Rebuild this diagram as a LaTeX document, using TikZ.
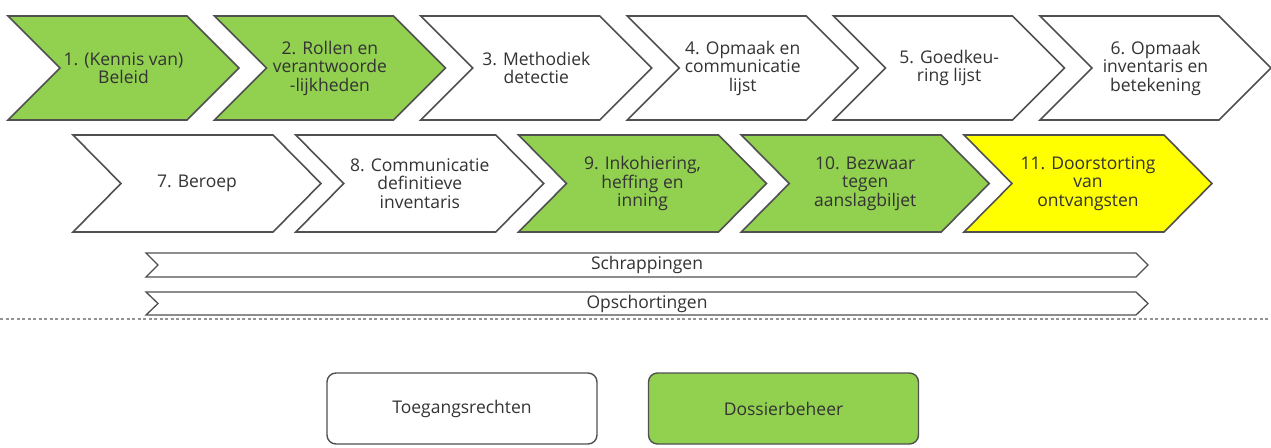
\documentclass[tikz,border=0pt]{standalone}
\usepackage{fontspec}
\setmainfont{Open Sans}
\definecolor{groen}{HTML}{92D050}
\definecolor{geel}{HTML}{FFFF00}
\definecolor{rand}{HTML}{505050}
\definecolor{tekstkl}{HTML}{333333}
% pijl: naam, links, boven, onder, breedte, punt, opmaak, tekst
\newcommand{\pijl}[8]{%
  \draw[pijlrand,#7] ({#2},{#3}) -- ({#2+#5-#6},{#3}) -- ({#2+#5},{(#3+#4)/2})
    -- ({#2+#5-#6},{#4}) -- ({#2},{#4}) -- ({#2+#6},{(#3+#4)/2}) -- cycle;
  \node[lbl] (#1) at ({#2+#5/2},{(#3+#4)/2}) {#8};}
\begin{document}
\begin{tikzpicture}[x=1pt,y=-1pt,
    pijlrand/.style={draw=rand, line width=1.6pt, line join=miter},
    lbl/.style={align=center, text=tekstkl, font=\fontsize{17.5}{18.5}\selectfont, inner sep=0pt},
    kader/.style={lbl, draw=rand, line width=1.4pt, rounded corners=9pt,
          minimum width=270pt, minimum height=71pt}]
  \useasboundingbox (0,0) rectangle (1271,447);
  % bovenste rij
  \foreach \n/\kleur/\tekst in {1/groen/{1. (Kennis van)\\Beleid},
      2/groen/{2. Rollen en\\verantwoorde\\-lijkheden}, 3/white/{3. Methodiek\\detectie},
      4/white/{4. Opmaak en\\communicatie\\lijst}, 5/white/{5. Goedkeu-\\ring lijst},
      6/white/{6. Opmaak\\inventaris en\\betekening}}
    \pijl{stap\n}{8+206.4*(\n-1)}{16}{120}{231}{52}{fill=\kleur}{\tekst};
  % onderste rij
  \foreach \n/\kleur/\tekst in {7/white/{7. Beroep},
      8/white/{8. Communicatie\\definitieve\\inventaris}, 9/groen/{9. Inkohiering,\\heffing en\\inning},
      10/groen/{10. Bezwaar\\tegen\\aanslagbiljet}, 11/geel/{11. Doorstorting\\van\\ontvangsten}}
    \pijl{stap\n}{73+222.75*(\n-7)}{135}{232}{248}{48}{fill=\kleur}{\tekst};
  % balken
  \pijl{schrap}{146}{253}{277}{1002}{12}{fill=white, line width=1.3pt}{Schrappingen};
  \pijl{opschort}{146}{292}{315}{1002}{12}{fill=white, line width=1.3pt}{Opschortingen};
  % scheiding
  \coordinate (scheidL) at (0,319);
  \coordinate (scheidR) at (1271,319);
  \draw[gray!85, line width=1.2pt, dash pattern=on 3pt off 2.5pt] (scheidL) -- (scheidR);
  % kaders
  \node[kader] (toegang) at (462,408.5) {Toegangsrechten};
  \node[kader, fill=groen] (dossier) at (783.5,408.5) {Dossierbeheer};
\end{tikzpicture}
\end{document}
